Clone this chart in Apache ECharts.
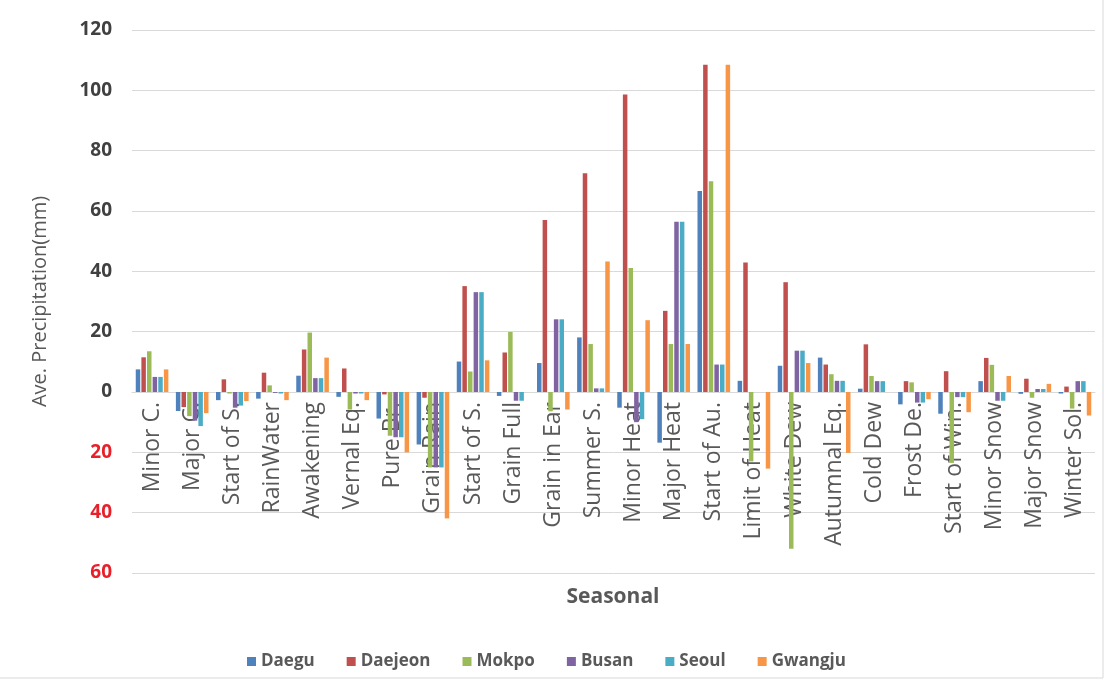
<!DOCTYPE html>
<html>
<head>
<meta charset="utf-8">
<script src="https://cdn.jsdelivr.net/npm/echarts@6/dist/echarts.min.js"></script>
<style>
  html, body { margin: 0; padding: 0; background: #ffffff; }
  #chart { width: 1107px; height: 682px; }
</style>
</head>
<body>
<div id="chart"></div>
<script>
// 24 seasonal divisions (solar terms)
const categories = ['Minor C.', 'Major C.', 'Start of S.', 'RainWater', 'Awakening', 'Vernal Eq.',
  'Pure Br.', 'Grain Rain', 'Start of S.', 'Grain Full', 'Grain in Ear', 'Summer S.',
  'Minor Heat', 'Major Heat', 'Start of Au.', 'Limit of Heat', 'White Dew', 'Autumnal Eq.',
  'Cold Dew', 'Frost De.', 'Start of Win.', 'Minor Snow', 'Major Snow', 'Winter Sol.'];

// average precipitation per city (mm)
const daegu   = [7.5, -6.3, -2.7, -2.2, 5.4, -1.6, -8.8, -17.4, 10.1, -1.3, 9.6, 18.1, -5.2, -16.8, 66.6, 3.7, 8.7, 11.4, 1.1, -4.1, -7.2, 3.6, -0.6, -0.5];
const daejeon = [11.5, -5.0, 4.2, 6.4, 14.1, 7.8, -0.8, -1.9, 35.1, 13.1, 57.0, 72.5, 98.6, 26.9, 108.5, 42.9, 36.4, 9.1, 15.8, 3.6, 6.9, 11.3, 4.4, 1.8];
const mokpo   = [13.5, -8.0, -0.5, 2.2, 19.7, -5.8, -14.5, -25.0, 6.8, 19.9, -6.4, 15.9, 41.1, 15.9, 69.9, -23.0, -52.0, 5.9, 5.3, 3.2, -23.5, 9.0, -1.9, -5.5];
const busan   = [5.0, -9.5, -5.2, -0.3, 4.6, -0.5, -15.0, -25.0, 33.1, -2.9, 24.1, 1.2, -10.0, 56.4, 9.1, 0, 13.7, 3.7, 3.6, -3.5, -1.7, -2.9, 1.0, 3.6];
const seoul   = [5.0, -11.3, -4.5, -0.5, 4.6, -0.5, -15.0, -25.0, 33.1, -2.9, 24.1, 1.2, -9.0, 56.4, 9.1, 0, 13.7, 3.7, 3.6, -3.5, -1.7, -2.9, 1.0, 3.6];
const gwangju = [7.5, -7.0, -3.0, -2.7, 11.4, -2.7, -20.0, -41.9, 10.5, 0, -5.8, 43.3, 23.8, 15.9, 108.5, -25.4, 9.6, -20.2, 0, -2.4, -6.7, 5.3, 2.7, -7.8];

const cities = ['Daegu', 'Daejeon', 'Mokpo', 'Busan', 'Seoul', 'Gwangju'];
const values = [daegu, daejeon, mokpo, busan, seoul, gwangju];
const colors = ['#4F81BD', '#C0504D', '#9BBB59', '#8064A2', '#4BACC6', '#F79646'];

// value-axis range
const Y_MIN = -60, Y_MAX = 120, Y_STEP = 20;

const FONT = '"Open Sans", "Noto Sans", sans-serif';

const GRID = { left: 132, right: 12, top: 30, bottom: 109 };
const plotHeight = 682 - GRID.top - GRID.bottom;
// move the category axis up so it sits on the zero line
const zeroOffset = -plotHeight * (0 - Y_MIN) / (Y_MAX - Y_MIN);

const chart = echarts.init(document.getElementById('chart'), null, { renderer: 'canvas' });

chart.setOption({
  animation: false,
  backgroundColor: '#ffffff',
  color: colors,
  textStyle: { fontFamily: FONT },
  grid: Object.assign({ containLabel: false, outerBoundsMode: 'none' }, GRID),
  legend: {
    data: cities,
    left: 242,
    top: 648,
    itemWidth: 9,
    itemHeight: 9,
    itemGap: 32,
    icon: 'rect',
    textStyle: { fontFamily: FONT, fontSize: 17, fontWeight: 'bold', color: '#595959' }
  },
  xAxis: {
    type: 'category',
    data: categories,
    offset: zeroOffset,
    axisLine: { onZero: false, lineStyle: { color: '#d9d9d9', width: 1 } },
    axisTick: { show: false },
    axisLabel: {
      interval: 0,
      rotate: 90,
      margin: 10,
      fontSize: 23,
      color: '#595959',
      fontFamily: FONT
    },
    splitLine: { show: false }
  },
  yAxis: {
    type: 'value',
    min: Y_MIN,
    max: Y_MAX,
    interval: Y_STEP,
    name: 'Ave. Precipitation(mm)',
    nameLocation: 'middle',
    nameGap: 82,
    nameTextStyle: { fontSize: 20, color: '#595959', fontFamily: FONT },
    axisLine: { show: false },
    axisTick: { show: false },
    axisLabel: {
      margin: 20,
      fontSize: 19,
      fontWeight: 'bold',
      fontFamily: FONT,
      formatter: v => String(Math.abs(v)),
      color: v => (Number(v) < 0 ? '#E8202A' : '#404040')
    },
    splitLine: { lineStyle: { color: '#d9d9d9', width: 1 } }
  },
  graphic: [
    {
      type: 'text',
      x: 613,
      y: 597,
      style: {
        text: 'Seasonal',
        fill: '#595959',
        font: 'bold 21px ' + FONT,
        textAlign: 'center',
        textVerticalAlign: 'middle'
      }
    },
    {
      type: 'rect',
      shape: { x: -1, y: -1, width: 1104, height: 679 },
      style: { fill: 'none', stroke: '#d9d9d9', lineWidth: 1 },
      silent: true
    }
  ],
  series: cities.map((name, i) => ({
    name,
    type: 'bar',
    data: values[i],
    barWidth: 4.5,
    barGap: '25%',
    itemStyle: { color: colors[i] }
  }))
});
</script>
</body>
</html>
